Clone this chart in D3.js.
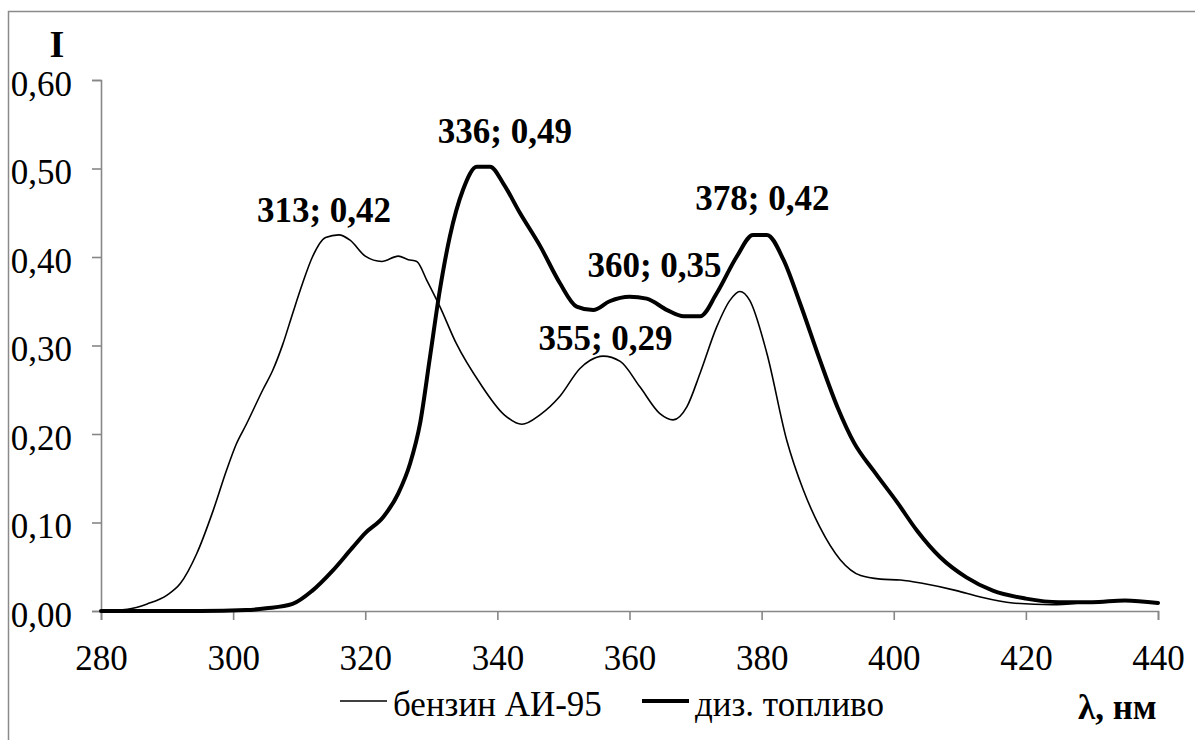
<!DOCTYPE html>
<html>
<head>
<meta charset="utf-8">
<script src="https://cdn.jsdelivr.net/npm/d3@7"></script>
<style>
	body { margin: 0; background: #fff; }
	svg text { font-family: "Liberation Serif", "DejaVu Serif", serif; fill: #000; }
</style>
</head>
<body>
<svg class="chart" width="1195" height="740"></svg>
<script>
// бензин АИ-95 (thin line)
var gasLambda = [280, 284, 287, 290, 292, 294.5, 297, 299, 300.5, 302, 304.5, 306, 307.5, 309, 310.5, 312, 314, 316, 317.7, 320,
	322.5, 325, 326.5, 327.8, 329.3, 331.3, 333.8, 337.4, 341, 343.7, 346.5, 349.5, 352.5, 354, 356, 358.6, 361.6, 364.6, 366.6, 368.7,
	370.7, 373.2, 375.2, 376.7, 378.2, 380.8, 383.8, 386.3, 388.8, 391.9, 395, 398, 401, 404.5, 409.5, 413, 418, 424, 430, 435, 440];
var gasValues = [0.000, 0.002, 0.008, 0.018, 0.031, 0.065, 0.114, 0.159, 0.189, 0.211, 0.250, 0.272, 0.301, 0.336, 0.370, 0.400, 0.422, 0.425, 0.419, 0.401,
	0.395, 0.401, 0.397, 0.395, 0.374, 0.344, 0.302, 0.257, 0.222, 0.211, 0.222, 0.243, 0.274, 0.283, 0.288, 0.282, 0.253, 0.223, 0.216, 0.231,
	0.269, 0.321, 0.351, 0.361, 0.351, 0.291, 0.193, 0.137, 0.095, 0.058, 0.040, 0.036, 0.035, 0.031, 0.023, 0.016, 0.009, 0.007, 0.010, 0.012, 0.009];

// диз. топливо (thick line)
var dieselLambda = [280, 295, 302, 305, 309, 312, 315, 318, 320, 322.7, 325, 326.8, 328.3, 329.8, 331.3, 332.8, 334.8, 336.9, 338.9, 340.9,
	343.4, 346.5, 349.5, 352, 354.5, 357, 360, 362.6, 365.7, 368.2, 370.7, 373.2, 376.2, 378.7, 380.8, 383.3, 385.8, 388.8, 391.5, 394,
	397, 400.5, 403.5, 407, 411, 415, 420, 425, 430, 435, 440];
var dieselValues = [0.000, 0.000, 0.001, 0.003, 0.008, 0.023, 0.045, 0.071, 0.088, 0.106, 0.133, 0.167, 0.212, 0.287, 0.363, 0.423, 0.476, 0.502, 0.502, 0.483,
	0.450, 0.412, 0.370, 0.344, 0.340, 0.350, 0.355, 0.353, 0.340, 0.333, 0.333, 0.359, 0.400, 0.425, 0.425, 0.397, 0.348, 0.284, 0.230, 0.190,
	0.158, 0.123, 0.091, 0.061, 0.038, 0.023, 0.014, 0.010, 0.010, 0.012, 0.009];

var xTicks = [280, 300, 320, 340, 360, 380, 400, 420, 440];
var yTicks = [0, 0.1, 0.2, 0.3, 0.4, 0.5, 0.6];

var peakLabels = ["313; 0,42", "336; 0,49", "360; 0,35", "355; 0,29", "378; 0,42"];
var peakLambda = [313, 336, 360, 355, 378];
var peakValues = [0.42, 0.49, 0.35, 0.29, 0.42];

var seriesNames = ["бензин АИ-95", "диз. топливо"];

var serif = '"Liberation Serif", "DejaVu Serif", serif';

var margin = {top: 80, left: 101, right: 37, bottom: 129};
var width = 1195 - margin.left - margin.right,
	height = 740 - margin.top - margin.bottom;

var chart = d3.select('.chart');

// outer frame
chart.append('rect')
	.attr('x', 8.5).attr('y', 11.5)
	.attr('width', 1220).attr('height', 760)
	.attr('fill', 'none')
	.attr('stroke', '#8a8a8a')
	.attr('stroke-width', 1.5);

var g = chart.append('g')
	.attr('transform', 'translate(' + margin.left + ',' + margin.top + ')');

var x = d3.scaleLinear().domain([280, 440]).range([0, width]);
var y = d3.scaleLinear().domain([0, 0.6]).range([height, 0]);

var fmt = function(v){ return d3.format('.2f')(v).replace('.', ','); };

var xAxis = d3.axisBottom(x).tickValues(xTicks).tickSize(9).tickPadding(25).tickFormat(d3.format('d'));
var yAxis = d3.axisLeft(y).tickValues(yTicks).tickSize(9).tickPadding(20).tickFormat(fmt);

var gx = g.append('g')
	.attr('transform', 'translate(0,' + height + ')')
	.call(xAxis);
var gy = g.append('g').call(yAxis);

[gx, gy].forEach(function(ax){
	ax.attr('font-family', serif).attr('font-size', 35);
	ax.select('.domain').attr('stroke', '#878787').attr('stroke-width', 1.6);
	ax.selectAll('.tick line').attr('stroke', '#878787').attr('stroke-width', 1.6);
	ax.selectAll('.tick text')
		.style('font-family', serif)
		.style('font-size', '35px')
		.attr('fill', '#000');
});
gy.selectAll('.tick text').attr('dy', '0.43em');
gx.selectAll('.tick text').attr('dy', '0.71em');

var line = d3.line()
	.x(function(d){ return x(d[0]); })
	.y(function(d){ return y(d[1]); })
	.curve(d3.curveMonotoneX);

var gasData = gasLambda.map(function(l, i){ return [l, gasValues[i]]; });
var dieselData = dieselLambda.map(function(l, i){ return [l, dieselValues[i]]; });

g.append('path')
	.datum(gasData)
	.attr('fill', 'none')
	.attr('stroke', '#000')
	.attr('stroke-width', 1.6)
	.attr('stroke-linejoin', 'round')
	.attr('d', line);

g.append('path')
	.datum(dieselData)
	.attr('fill', 'none')
	.attr('stroke', '#000')
	.attr('stroke-width', 4)
	.attr('stroke-linejoin', 'round')
	.attr('stroke-linecap', 'round')
	.attr('d', line);

// peak annotations, nudged off the curves
var nudge = [[5, -17], [34, -34], [25, -24], [9, -4], [14, -29]];
g.selectAll('.peak')
	.data(peakLabels)
	.enter()
	.append('text')
	.attr('class', 'peak')
	.attr('x', function(d, i){ return x(peakLambda[i]) + nudge[i][0]; })
	.attr('y', function(d, i){ return y(peakValues[i]) + nudge[i][1]; })
	.attr('text-anchor', 'middle')
	.style('font-size', '35px')
	.style('font-weight', 'bold')
	.text(function(d){ return d; });

// axis titles
chart.append('text')
	.attr('x', 57).attr('y', 57)
	.attr('text-anchor', 'middle')
	.style('font-size', '38px')
	.style('font-weight', 'bold')
	.text('I');

chart.append('text')
	.attr('x', 1078).attr('y', 719)
	.style('font-size', '35px')
	.style('font-weight', 'bold')
	.text('λ, нм');

// legend
var legend = chart.append('g');
var legendX = [340, 642], legendW = [1.6, 4];
seriesNames.forEach(function(name, i){
	legend.append('line')
		.attr('x1', legendX[i]).attr('x2', legendX[i] + 47)
		.attr('y1', 701).attr('y2', 701)
		.attr('stroke', '#000')
		.attr('stroke-width', legendW[i]);
	legend.append('text')
		.attr('x', legendX[i] + 53).attr('y', 716)
		.style('font-size', '35px')
		.text(name);
});
</script>
</body>
</html>
